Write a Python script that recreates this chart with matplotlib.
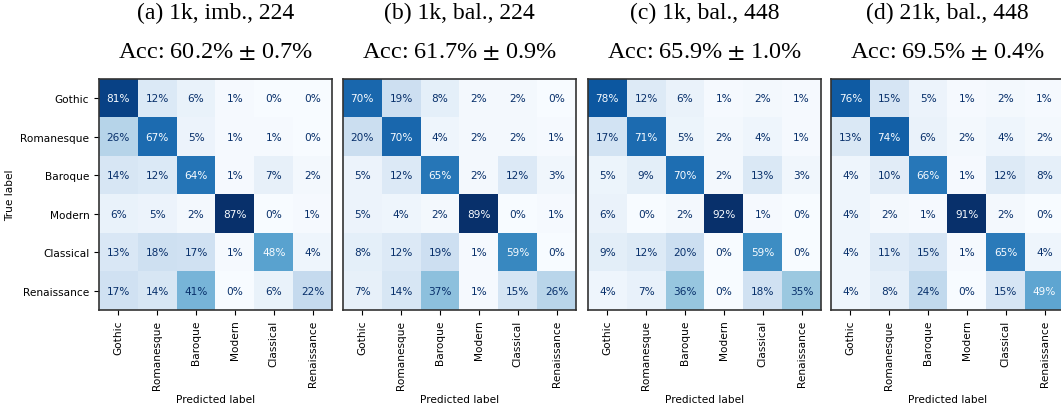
import numpy as np
import matplotlib
matplotlib.use("Agg")
import matplotlib.pyplot as plt

plt.rcParams["mathtext.fontset"] = "stix"

# class names (rows = true, cols = predicted)
classes = ["Gothic", "Romanesque", "Baroque", "Modern", "Classical", "Renaissance"]

# panel titles and accuracies
panel_names = ["(a) 1k, imb., 224", "(b) 1k, bal., 224", "(c) 1k, bal., 448", "(d) 21k, bal., 448"]
acc_mean = [60.2, 61.7, 65.9, 69.5]
acc_std = [0.7, 0.9, 1.0, 0.4]

# confusion matrices in percent
cm_a = [[81, 12, 6, 1, 0, 0],
        [26, 67, 5, 1, 1, 0],
        [14, 12, 64, 1, 7, 2],
        [6, 5, 2, 87, 0, 1],
        [13, 18, 17, 1, 48, 4],
        [17, 14, 41, 0, 6, 22]]
cm_b = [[70, 19, 8, 2, 2, 0],
        [20, 70, 4, 2, 2, 1],
        [5, 12, 65, 2, 12, 3],
        [5, 4, 2, 89, 0, 1],
        [8, 12, 19, 1, 59, 0],
        [7, 14, 37, 1, 15, 26]]
cm_c = [[78, 12, 6, 1, 2, 1],
        [17, 71, 5, 2, 4, 1],
        [5, 9, 70, 2, 13, 3],
        [6, 0, 2, 92, 1, 0],
        [9, 12, 20, 0, 59, 0],
        [4, 7, 36, 0, 18, 35]]
cm_d = [[76, 15, 5, 1, 2, 1],
        [13, 74, 6, 2, 4, 2],
        [4, 10, 66, 1, 12, 8],
        [4, 2, 1, 91, 2, 0],
        [4, 11, 15, 1, 65, 4],
        [4, 8, 24, 0, 15, 49]]
matrices = [cm_a, cm_b, cm_c, cm_d]

W, H = 1061, 406
fig = plt.figure(figsize=(W / 100, H / 100), dpi=100)
cmap = plt.get_cmap("Blues")

lefts = [99, 343, 588, 831]
ax_w, ax_h = 233, 231
ax_bottom = H - 311
fs = 7.6

for i, cm in enumerate(matrices):
    cm = np.array(cm)
    ax = fig.add_axes([lefts[i] / W, ax_bottom / H, ax_w / W, ax_h / H])
    ax.imshow(cm, cmap=cmap, interpolation="nearest", aspect="auto")
    thresh = (cm.max() + cm.min()) / 2.0
    for r in range(cm.shape[0]):
        for c in range(cm.shape[1]):
            color = cmap(0.0) if cm[r, c] > thresh else cmap(1.0)
            ax.text(c, r, f"{cm[r, c]}%", ha="center", va="center",
                    color=color, fontsize=fs)
    ax.set_xticks(range(len(classes)))
    ax.set_yticks(range(len(classes)))
    ax.set_xticklabels(classes, rotation=90, fontsize=fs)
    if i == 0:
        ax.set_yticklabels(classes, fontsize=fs)
        ax.set_ylabel("True label", fontsize=fs)
    else:
        ax.set_yticklabels([])
        ax.tick_params(axis="y", left=False)
    ax.set_xlabel("Predicted label", fontsize=fs)
    for s in ax.spines.values():
        s.set_linewidth(1.2)
        s.set_color("#333333")

    ax.text(0.5, 1.286, panel_names[i], transform=ax.transAxes, ha="center",
            va="center", fontsize=17, family="Liberation Serif")
    ax.text(0.5, 1.121, f"Acc: {acc_mean[i]:.1f}% $\\pm$ {acc_std[i]:.1f}%",
            transform=ax.transAxes, ha="center", va="center", fontsize=17.5,
            family="Liberation Serif")

fig.savefig("out.png", dpi=100)
